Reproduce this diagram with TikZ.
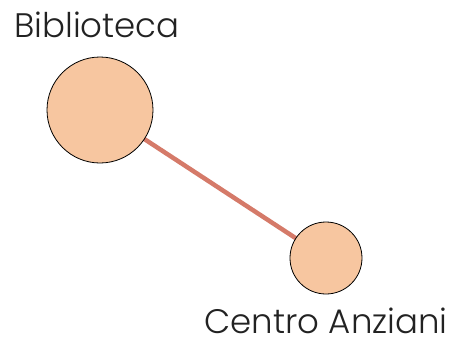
\documentclass[tikz,border=0pt]{standalone}
\usepackage{fontspec}
\setmainfont{Poppins Light}
\usetikzlibrary{backgrounds}
\definecolor{nodefill}{HTML}{F7C6A0}
\definecolor{edgecol}{HTML}{D57A69}
\definecolor{labelcol}{HTML}{222222}
\begin{document}
\begin{tikzpicture}[x=1pt,y=-1pt,
  place/.style={circle,draw=black,line width=0.8pt,fill=nodefill,inner sep=0pt},
  lbl/.style={text=labelcol,font=\fontsize{34}{40}\selectfont,inner sep=0pt,anchor=base},
  link/.style={draw=edgecol,line width=4.5pt}]
\useasboundingbox (0,0) rectangle (459,349);
\node[place,minimum size=106pt] (bib) at (100,110) {};
\node[place,minimum size=72pt] (cen) at (326,258) {};
\begin{scope}[on background layer]
  \draw[link] (bib.center) -- (cen.center);
\end{scope}
\node[lbl] (tbib) at (97,37) {Biblioteca};
\node[lbl] (tcen) at (326,333) {Centro Anziani};
\end{tikzpicture}
\end{document}
